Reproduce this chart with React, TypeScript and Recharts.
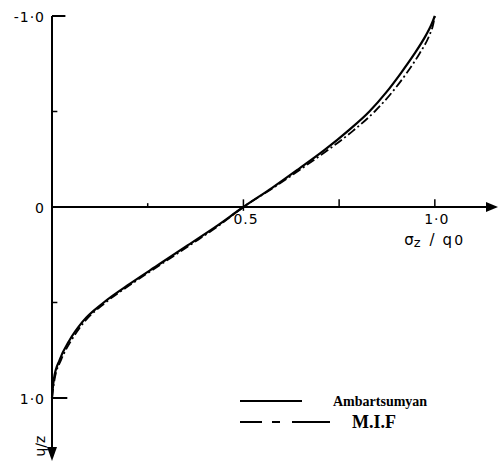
import { ComposedChart, Line, XAxis, YAxis, ReferenceLine, ReferenceDot } from "recharts";

// depth ordinate (top = -1.0, bottom = 1.0)
const depth = [1.0, 0.95, 0.9, 0.8, 0.7, 0.6, 0.5, 0.4, 0.3, 0.2, 0.1, 0, -0.1, -0.2, -0.3, -0.4, -0.5, -0.6, -0.7, -0.8, -0.9, -0.95, -1.0];
// sigma_z / q0 values
const ambartsumyan = [0, 0.002, 0.005, 0.02, 0.045, 0.08, 0.135, 0.205, 0.28, 0.355, 0.43, 0.5, 0.575, 0.645, 0.713, 0.774, 0.829, 0.873, 0.911, 0.946, 0.977, 0.99, 1.0];
const mif = [0, 0.003, 0.007, 0.024, 0.05, 0.085, 0.14, 0.21, 0.285, 0.36, 0.434, 0.5, 0.578, 0.651, 0.722, 0.787, 0.843, 0.888, 0.926, 0.959, 0.986, 0.995, 1.0];

const yTicks = [-1, 0, 1];
const yTickLabels = ["-1·0", "0", "1·0"];
const xTicks = [0.5, 1.0];
const xTickLabels = ["0.5", "1·0"];
const xMinor = [0.25, 0.5, 0.75, 1.0];
const yMinor = [-0.5, 0.5];

const ambData = depth.map((y, i) => ({ x: ambartsumyan[i], y }));
const mifData = depth.map((y, i) => ({ x: mif[i], y }));

const font = "'DejaVu Sans', sans-serif";

function textShape(label: string, dx: number, dy: number, anchor: "start" | "end" | "middle") {
  return (props: any) => (
    <text
      x={props.cx + dx}
      y={props.cy + dy}
      textAnchor={anchor}
      fontFamily={font}
      fontSize={14}
      letterSpacing={1}
      fill="#000"
    >
      {label}
    </text>
  );
}

export default function App() {
  return (
    <div style={{ position: "absolute", left: 0, top: 0, width: 500, height: 463, background: "#fff" }}>
      <ComposedChart width={500} height={463} margin={{ top: 16, right: 2, bottom: 2, left: 52 }}>
        <XAxis type="number" dataKey="x" domain={[0, 1.165]} hide />
        <YAxis type="number" dataKey="y" domain={[-1, 1.33]} reversed hide />

        {/* axes */}
        <ReferenceLine segment={[{ x: 0, y: 0 }, { x: 1.14, y: 0 }]} stroke="#000" strokeWidth={2} />
        <ReferenceLine segment={[{ x: 0, y: -1 }, { x: 0, y: 1.29 }]} stroke="#000" strokeWidth={2} />
        <ReferenceLine segment={[{ x: 0, y: -1 }, { x: 0.035, y: -1 }]} stroke="#000" strokeWidth={2} />
        <ReferenceLine segment={[{ x: 0, y: 1 }, { x: 0.04, y: 1 }]} stroke="#000" strokeWidth={2} />
        {yMinor.map((v) => (
          <ReferenceLine key={"ym" + v} segment={[{ x: 0, y: v }, { x: 0.014, y: v }]} stroke="#000" strokeWidth={1.5} />
        ))}
        {xMinor.map((v) => (
          <ReferenceLine
            key={"xm" + v}
            segment={[{ x: v, y: v === 0.5 ? 0.02 : 0 }, { x: v, y: v === 0.25 ? -0.02 : -0.04 }]}
            stroke="#000"
            strokeWidth={1.5}
          />
        ))}

        {/* arrow heads */}
        <ReferenceDot
          x={1.165}
          y={0}
          r={0}
          ifOverflow="visible"
          shape={(p: any) => (
            <polygon points={`${p.cx},${p.cy} ${p.cx - 12},${p.cy - 5} ${p.cx - 12},${p.cy + 5}`} fill="#000" />
          )}
        />
        <ReferenceDot
          x={0}
          y={1.33}
          r={0}
          ifOverflow="visible"
          shape={(p: any) => (
            <polygon points={`${p.cx},${p.cy} ${p.cx - 5},${p.cy - 14} ${p.cx + 5},${p.cy - 14}`} fill="#000" />
          )}
        />

        {/* tick labels */}
        {yTicks.map((v, i) => (
          <ReferenceDot key={"yl" + v} x={0} y={v} r={0} ifOverflow="visible" shape={textShape(yTickLabels[i], -7, 6, "end")} />
        ))}
        {xTicks.map((v, i) => (
          <ReferenceDot
            key={"xl" + v}
            x={v}
            y={0}
            r={0}
            ifOverflow="visible"
            shape={textShape(xTickLabels[i], v === 0.5 ? -10 : 2, 17, v === 0.5 ? "start" : "middle")}
          />
        ))}

        {/* axis titles */}
        <ReferenceDot
          x={0.92}
          y={0}
          r={0}
          ifOverflow="visible"
          shape={(p: any) => (
            <text x={p.cx} y={p.cy + 38} fontFamily={font} fontSize={15} fill="#000">
              σ<tspan fontSize={13} dy={2}>z</tspan>
              <tspan dx={9} dy={-2}>/</tspan>
              <tspan dx={8}>q</tspan>
              <tspan dx={2} fontSize={14}>0</tspan>
            </text>
          )}
        />
        <ReferenceDot
          x={0}
          y={1.2}
          r={0}
          ifOverflow="visible"
          shape={(p: any) => (
            <text
              x={p.cx - 15}
              y={p.cy + 10}
              transform={`rotate(90 ${p.cx - 15} ${p.cy + 10})`}
              fontFamily={font}
              fontSize={14}
              fill="#000"
              textAnchor="middle"
            >
              z/h
            </text>
          )}
        />

        <Line
          data={ambData}
          dataKey="y"
          type="monotone"
          stroke="#000"
          strokeWidth={2.2}
          dot={false}
          isAnimationActive={false}
        />
        <Line
          data={mifData}
          dataKey="y"
          type="monotone"
          stroke="#000"
          strokeWidth={1.8}
          strokeDasharray="9 3 2 3"
          dot={false}
          isAnimationActive={false}
        />
      </ComposedChart>

      {/* legend */}
      <svg width={500} height={463} style={{ position: "absolute", left: 0, top: 0, pointerEvents: "none" }}>
        <line x1={240} y1={401} x2={302} y2={401} stroke="#000" strokeWidth={2} />
        <text x={333} y={406} fontFamily="'Liberation Serif', serif" fontWeight="bold" fontSize={14} fill="#000">
          Ambartsumyan
        </text>
        <line x1={240} y1={422} x2={262} y2={422} stroke="#000" strokeWidth={2} />
        <line x1={272} y1={422} x2={280} y2={422} stroke="#000" strokeWidth={2} />
        <line x1={292} y1={422} x2={330} y2={422} stroke="#000" strokeWidth={2} />
        <text x={352} y={428} fontFamily="'Liberation Serif', serif" fontWeight="bold" fontSize={18} fill="#000">
          M.I.F
        </text>
      </svg>
    </div>
  );
}
